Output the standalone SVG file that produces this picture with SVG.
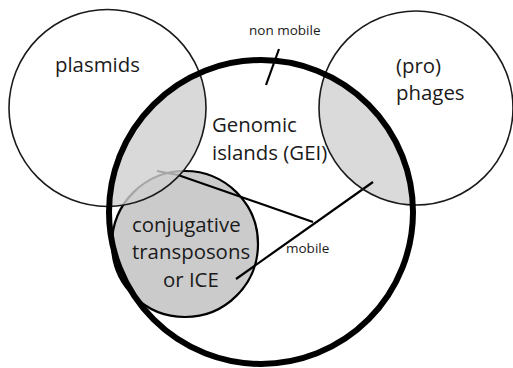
<svg xmlns="http://www.w3.org/2000/svg" width="513" height="368" viewBox="0 0 513 368">
<style>
.big{font-family:"Open Sans","Liberation Sans",sans-serif;font-size:20.4px;fill:#1a1a1a}
.small{font-family:"Open Sans","Liberation Sans",sans-serif;font-size:13.5px;fill:#1a1a1a}
.thin{fill:none;stroke:#1a1a1a;stroke-width:1.6}
.line{fill:none;stroke:#000;stroke-width:2.2;stroke-linecap:butt}
</style>
<defs>
<clipPath id="gei-clip"><circle cx="261" cy="212" r="152"/></clipPath>
</defs>
<rect width="513" height="368" fill="#fff"/>
<g id="phages-lens" clip-path="url(#gei-clip)"><circle cx="416" cy="108" r="97" fill="#dadada"/></g>
<g id="ice">
<circle cx="185" cy="244" r="73" fill="#cbcbcb" stroke="#000" stroke-width="2.2"/>
</g>
<g id="connectors">
<polyline class="line" points="157,171 178,175 313,222"/>
<line class="line" x1="236" y1="279" x2="373" y2="182"/>
<line class="line" x1="279" y1="49" x2="266" y2="85"/>
</g>
<g id="plasmids-lens" clip-path="url(#gei-clip)"><circle cx="107.5" cy="108" r="98.5" fill="#d0d0d0" fill-opacity="0.8"/></g>
<g id="plasmids">
<circle class="thin" cx="107.5" cy="108" r="98.5"/>
<text class="big" x="55" y="72">plasmids</text>
</g>
<g id="phages">
<circle class="thin" cx="416" cy="108" r="97"/>
<text class="big" x="396" y="73">(pro)</text>
<text class="big" x="396" y="100">phages</text>
</g>
<g id="gei">
<circle cx="261" cy="212" r="152" fill="none" stroke="#000" stroke-width="6"/>
<text class="big" x="212" y="132">Genomic</text>
<text class="big" x="212" y="160">islands (GEI)</text>
</g>
<g id="ice-label">
<text class="big" x="132" y="232">conjugative</text>
<text class="big" x="132" y="259">transposons</text>
<text class="big" x="163" y="287">or ICE</text>
</g>
<g id="labels">
<text class="small" x="249" y="35">non mobile</text>
<text class="small" x="286" y="253">mobile</text>
</g>
</svg>
